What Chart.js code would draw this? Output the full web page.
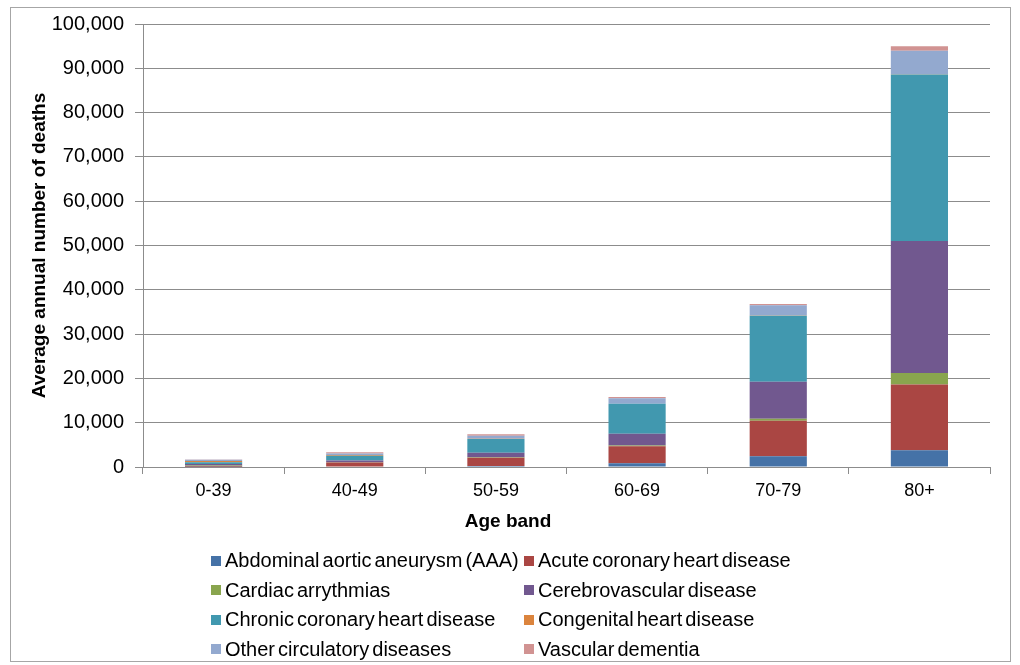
<!DOCTYPE html>
<html>
<head>
<meta charset="utf-8">
<script src="https://cdn.jsdelivr.net/npm/chart.js@4/dist/chart.umd.min.js"></script>
<style>
  html, body { margin: 0; padding: 0; background: #fff; }
  #wrap { position: relative; width: 1020px; height: 665px; overflow: hidden; }
  #frame { position: absolute; left: 10px; top: 7px; width: 1001px; height: 655px; border: 1px solid #a6a6a6; box-sizing: border-box; pointer-events: none; }
  canvas { position: absolute; left: 0; top: 0; }
  #legend { position: absolute; left: 211px; top: 549px; display: grid; grid-template-columns: 313px 300px; row-gap: 6.5px;
            font-family: "Liberation Sans", Arial, sans-serif; font-size: 20px; color: #000; word-spacing: -2.5px; }
  #legend .item { display: flex; align-items: center; height: 23px; white-space: nowrap; }
  #legend .box { width: 10px; height: 10px; margin-right: 4px; flex: none; }
</style>
</head>
<body>
<div id="wrap">
  <canvas id="c" width="1020" height="665"></canvas>
  <div id="frame"></div>
  <div id="legend"></div>
</div>
<script>
// Age bands on the x axis
const ageBands = ["0-39", "40-49", "50-59", "60-69", "70-79", "80+"];

// Average annual number of deaths by cause, one value per age band
const aaa          = [50, 100, 250, 850, 2400, 3800];
const acuteCHD     = [200, 900, 1850, 3850, 8050, 14800];
const arrhythmias  = [100, 50, 80, 150, 450, 2600];
const cerebro      = [300, 400, 1050, 2650, 8350, 29800];
const chronicCHD   = [450, 1100, 3100, 6750, 14900, 37600];
const congenital   = [250, 150, 30, 40, 50, 50];
const otherCirc    = [300, 350, 700, 1250, 2300, 5300];
const vascDementia = [50, 300, 350, 250, 300, 1000];

const seriesNames = [
  "Abdominal aortic aneurysm (AAA)", "Acute coronary heart disease",
  "Cardiac arrythmias", "Cerebrovascular disease",
  "Chronic coronary heart disease", "Congenital heart disease",
  "Other circulatory diseases", "Vascular dementia"
];
const seriesColors = ["#4572A7", "#AA4643", "#89A54E", "#71588F", "#4198AF", "#DB843D", "#93A9CF", "#D19392"];
const seriesValues = [aaa, acuteCHD, arrhythmias, cerebro, chronicCHD, congenital, otherCirc, vascDementia];

const yTicks = { min: 0, max: 100000, step: 10000 };
const xTitle = "Age band";

const FONT = "'Liberation Sans', Arial, sans-serif";
const GRID = "#8c8c8c";

const datasets = seriesNames.map((name, i) => ({
  label: name,
  data: seriesValues[i],
  backgroundColor: seriesColors[i],
  borderWidth: 0,
  categoryPercentage: 1.0,
  barPercentage: 0.405
}));

// The x axis title sits centred on the whole chart frame rather than the plot area
const xTitlePlugin = {
  id: "xTitle",
  afterDraw(c) {
    const ctx = c.ctx;
    ctx.save();
    ctx.font = "bold 19px " + FONT;
    ctx.fillStyle = "#000";
    ctx.textAlign = "center";
    ctx.textBaseline = "middle";
    ctx.fillText(xTitle, 508, 522);
    ctx.restore();
  }
};

const chart = new Chart(document.getElementById("c"), {
  type: "bar",
  data: { labels: ageBands, datasets },
  plugins: [xTitlePlugin],
  options: {
    responsive: false,
    animation: false,
    devicePixelRatio: 1,
    layout: { padding: { top: 24, right: 30, bottom: 130, left: 28 } },
    plugins: { legend: { display: false }, tooltip: { enabled: false } },
    scales: {
      x: {
        stacked: true,
        grid: { drawOnChartArea: false, drawTicks: true, tickLength: 7, color: GRID },
        border: { color: GRID, width: 1 },
        ticks: { color: "#000", font: { family: FONT, size: 18 }, padding: 6 },
        afterFit: s => { s.height = 68; }
      },
      y: {
        stacked: true,
        min: yTicks.min,
        max: yTicks.max,
        grid: { color: GRID, tickLength: 8, drawTicks: true },
        border: { color: GRID, width: 1 },
        ticks: {
          stepSize: yTicks.step,
          color: "#000",
          font: { family: FONT, size: 20 },
          padding: 11,
          callback: v => v.toLocaleString("en-US")
        },
        title: { display: true, text: "Average annual number of deaths", color: "#000", font: { family: FONT, size: 19, weight: "bold" }, padding: { top: 0, bottom: 0 } },
        afterFit: s => { s.width = 115; }
      }
    }
  }
});

// Two-column legend built from the chart's datasets
const legend = document.getElementById("legend");
chart.data.datasets.forEach(ds => {
  const item = document.createElement("div");
  item.className = "item";
  const box = document.createElement("span");
  box.className = "box";
  box.style.background = ds.backgroundColor;
  const txt = document.createElement("span");
  txt.textContent = ds.label;
  item.appendChild(box);
  item.appendChild(txt);
  legend.appendChild(item);
});
</script>
</body>
</html>
